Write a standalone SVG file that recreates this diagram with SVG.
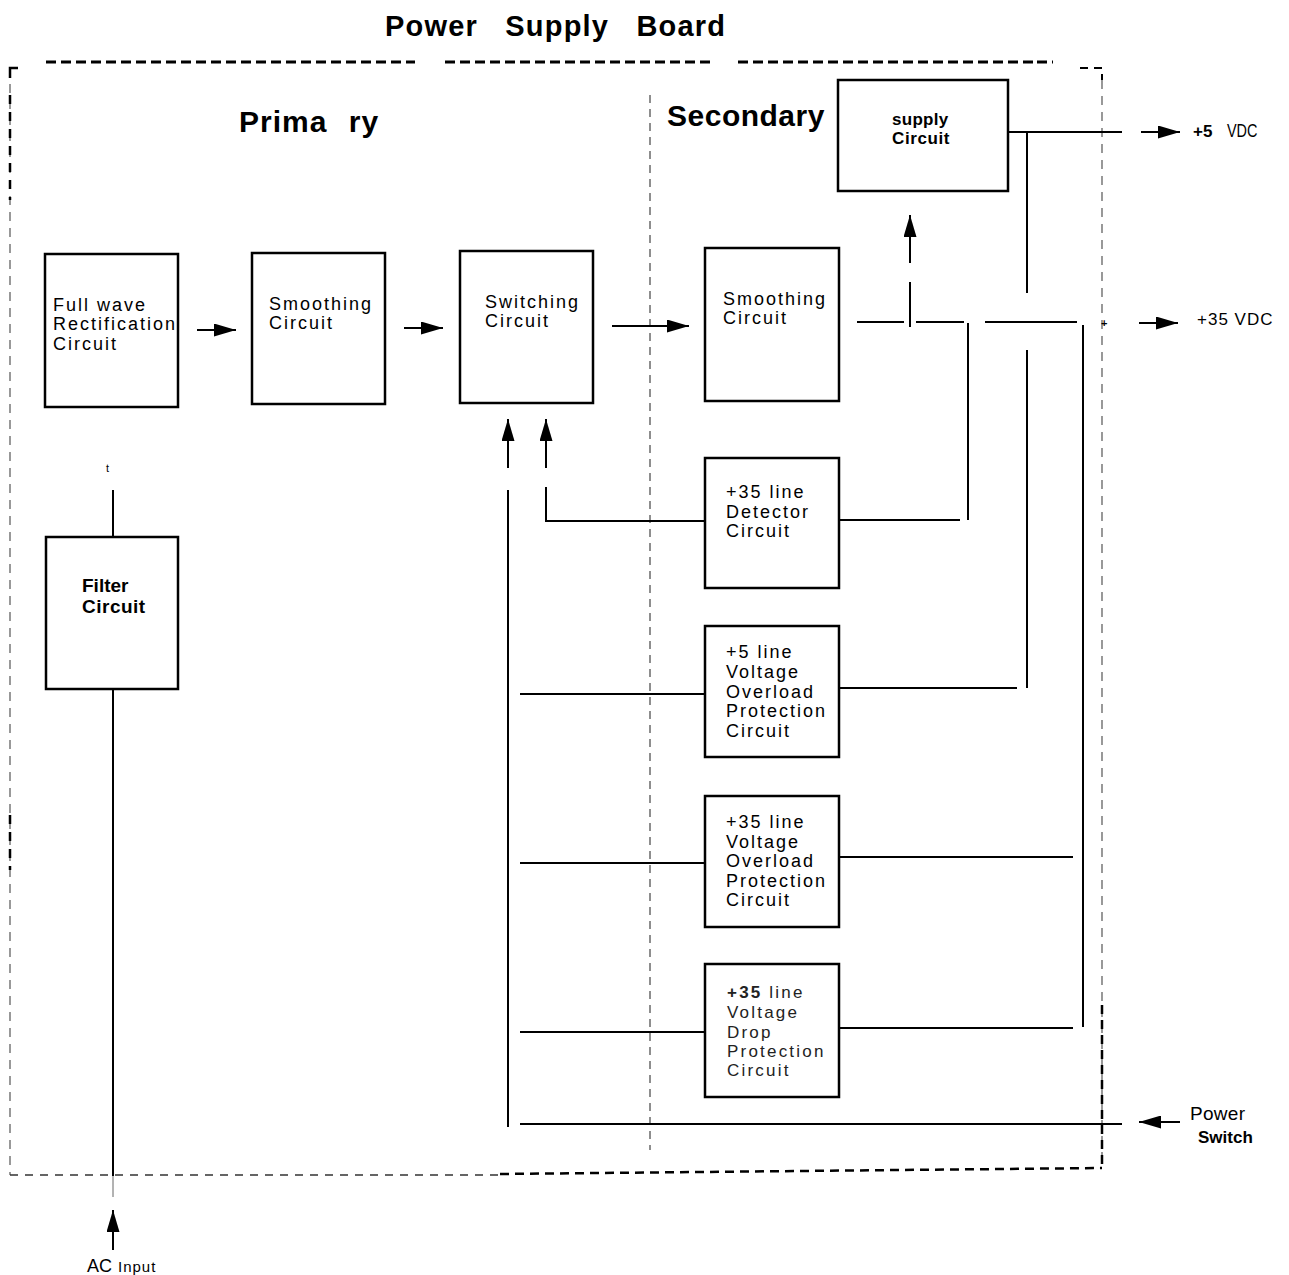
<svg xmlns="http://www.w3.org/2000/svg" width="1289" height="1275" viewBox="0 0 1289 1275">
<style>
.bg{fill:#fff}
.box{fill:none;stroke:#000;stroke-width:2.5}
.ln{fill:none;stroke:#000;stroke-width:2}
.t{font-family:"Liberation Sans",Arial,Helvetica,sans-serif;font-size:18px;letter-spacing:2px;fill:#000}
.tl{font-family:"Liberation Sans",Arial,Helvetica,sans-serif;font-size:17px;letter-spacing:2.2px;fill:#222}
.tb{font-family:"Liberation Sans",Arial,Helvetica,sans-serif;font-weight:bold;fill:#000}
.h{font-family:"Liberation Sans",Arial,Helvetica,sans-serif;font-weight:bold;font-size:30px;fill:#000}
.brd{fill:none;stroke:#000;stroke-width:3;stroke-dasharray:10 5}
.thin{fill:none;stroke:#555;stroke-width:1.2;stroke-dasharray:9 7}
</style>
<defs>
<marker id="ar" markerUnits="userSpaceOnUse" markerWidth="22" markerHeight="13" refX="22" refY="6.5" orient="auto">
<path d="M0,0 L22,6.5 L0,13 z" fill="#000"/>
</marker>
</defs>
<rect class="bg" x="0" y="0" width="1289" height="1275"/>

<g id="frame">
<text class="tb" x="385" y="36" font-size="29" letter-spacing="1.2" word-spacing="18">Power Supply Board</text>
<path class="brd" d="M46 62 H415 M445 62 H711 M738 62 H1033 M1037 62 H1053"/>
<path d="M10 78 V68 H18" fill="none" stroke="#000" stroke-width="2.5"/>
<path d="M1080 68 H1102 V80" fill="none" stroke="#000" stroke-width="2" stroke-dasharray="8 6"/>
<line class="thin" x1="10" y1="84" x2="10" y2="1175"/>
<path d="M10 95 V200 M10 815 V870" fill="none" stroke="#000" stroke-width="2.5" stroke-dasharray="9 8"/>
<line class="thin" x1="1102" y1="80" x2="1102" y2="1168"/>
<path d="M1102 1005 V1168" fill="none" stroke="#000" stroke-width="2.5" stroke-dasharray="9 6"/>
<path d="M10 1175 H500" fill="none" stroke="#333" stroke-width="1.5" stroke-dasharray="8 7"/>
<path d="M500 1174 L1102 1168" fill="none" stroke="#000" stroke-width="2.5" stroke-dasharray="9 6"/>
<line x1="650" y1="95" x2="650" y2="1150" stroke="#444" stroke-width="1.2" stroke-dasharray="8 6"/>
<text class="h" x="239" y="132" letter-spacing="1" word-spacing="12">Prima ry</text>
<text class="h" x="667" y="126" letter-spacing="0.5">Secondary</text>
</g>

<g id="rectifier">
<rect class="box" x="45" y="254" width="133" height="153"/>
<text class="t" x="53" y="311">Full wave</text>
<text class="t" x="53" y="330">Rectification</text>
<text class="t" x="53" y="350">Circuit</text>
</g>
<g id="smoothing-primary">
<rect class="box" x="252" y="253" width="133" height="151"/>
<text class="t" x="269" y="310">Smoothing</text>
<text class="t" x="269" y="329">Circuit</text>
</g>
<g id="switching">
<rect class="box" x="460" y="251" width="133" height="152"/>
<text class="t" x="485" y="308">Switching</text>
<text class="t" x="485" y="327">Circuit</text>
</g>
<g id="smoothing-secondary">
<rect class="box" x="705" y="248" width="134" height="153"/>
<text class="t" x="723" y="305">Smoothing</text>
<text class="t" x="723" y="324">Circuit</text>
</g>
<g id="supply">
<rect class="box" x="838" y="80" width="170" height="111"/>
<text class="tb" x="892" y="125" font-size="17" letter-spacing="0.3">supply</text>
<text class="tb" x="892" y="144" font-size="17" letter-spacing="0.6">Circuit</text>
</g>
<g id="detector35">
<rect class="box" x="705" y="458" width="134" height="130"/>
<text class="t" x="726" y="498">+35 line</text>
<text class="t" x="726" y="518">Detector</text>
<text class="t" x="726" y="537">Circuit</text>
</g>
<g id="overload5">
<rect class="box" x="705" y="626" width="134" height="131"/>
<text class="t" x="726" y="658">+5 line</text>
<text class="t" x="726" y="678">Voltage</text>
<text class="t" x="726" y="698">Overload</text>
<text class="t" x="726" y="717">Protection</text>
<text class="t" x="726" y="737">Circuit</text>
</g>
<g id="overload35">
<rect class="box" x="705" y="796" width="134" height="131"/>
<text class="t" x="726" y="828">+35 line</text>
<text class="t" x="726" y="848">Voltage</text>
<text class="t" x="726" y="867">Overload</text>
<text class="t" x="726" y="887">Protection</text>
<text class="t" x="726" y="906">Circuit</text>
</g>
<g id="drop35">
<rect class="box" x="705" y="964" width="134" height="133"/>
<text class="tl" x="727" y="998"><tspan font-weight="bold">+35</tspan> line</text>
<text class="tl" x="727" y="1018">Voltage</text>
<text class="tl" x="727" y="1038">Drop</text>
<text class="tl" x="727" y="1057">Protection</text>
<text class="tl" x="727" y="1076">Circuit</text>
</g>
<g id="filter">
<rect class="box" x="46" y="537" width="132" height="152"/>
<text class="tb" x="82" y="592" font-size="19">Filter</text>
<text class="tb" x="82" y="613" font-size="19" letter-spacing="0.5">Circuit</text>
</g>

<g id="labels">
<text class="tb" x="1193" y="137" font-size="17">+5</text>
<text x="1227" y="137" font-family="Liberation Sans,Arial,sans-serif" font-size="17" transform="translate(1227 137) scale(0.85 1.05) translate(-1227 -137)">VDC</text>
<text x="1197" y="325" font-family="Liberation Sans,Arial,sans-serif" font-size="17" letter-spacing="1">+35 VDC</text>
<text x="1101" y="327" font-family="Liberation Sans,Arial,sans-serif" font-size="11" font-weight="bold">+</text>
<text x="1190" y="1120" font-family="Liberation Sans,Arial,sans-serif" font-size="19" letter-spacing="0.3">Power</text>
<text class="tb" x="1198" y="1143" font-size="17">Switch</text>
<text x="87" y="1272" font-family="Liberation Sans,Arial,sans-serif" font-size="18">AC</text>
<text x="118" y="1272" font-family="Liberation Sans,Arial,sans-serif" font-size="15" letter-spacing="1">Input</text>
<text x="106" y="472" font-family="Liberation Sans,Arial,sans-serif" font-size="11">t</text>
</g>

<g id="connectors">
<line class="ln" x1="197" y1="330" x2="236" y2="330" marker-end="url(#ar)"/>
<line class="ln" x1="404" y1="328" x2="443" y2="328" marker-end="url(#ar)"/>
<line class="ln" x1="612" y1="326" x2="689" y2="326" marker-end="url(#ar)"/>
<path class="ln" d="M857 322 H904 M916 322 H964 M985 322 H1077"/>
<line class="ln" x1="910" y1="263" x2="910" y2="215" marker-end="url(#ar)"/>
<line class="ln" x1="910" y1="282" x2="910" y2="327"/>
<line class="ln" x1="1008" y1="132" x2="1122" y2="132"/>
<line class="ln" x1="1141" y1="132" x2="1180" y2="132" marker-end="url(#ar)"/>
<line class="ln" x1="1139" y1="323" x2="1178" y2="323" marker-end="url(#ar)"/>
<path class="ln" d="M1027 132 V293 M1027 350 V688"/>
<path class="ln" d="M968 323 V520"/>
<path class="ln" d="M1083 325 V1027"/>
<path class="ln" d="M839 520 H960"/>
<path class="ln" d="M839 688 H1017"/>
<path class="ln" d="M839 857 H1073"/>
<path class="ln" d="M839 1028 H1073"/>
<line class="ln" x1="508" y1="468" x2="508" y2="419" marker-end="url(#ar)"/>
<line class="ln" x1="546" y1="468" x2="546" y2="419" marker-end="url(#ar)"/>
<path class="ln" d="M546 487 V521 H705"/>
<path class="ln" d="M508 490 V1127"/>
<path class="ln" d="M520 694 H705"/>
<path class="ln" d="M520 863 H705"/>
<path class="ln" d="M520 1032 H705"/>
<path class="ln" d="M520 1124 H1122"/>
<line class="ln" x1="1180" y1="1122" x2="1139" y2="1122" marker-end="url(#ar)"/>
<path class="ln" d="M113 490 V537"/>
<path class="ln" d="M113 689 V1176"/>
<line x1="113" y1="1176" x2="113" y2="1197" stroke="#666" stroke-width="1"/>
<line class="ln" x1="113" y1="1250" x2="113" y2="1210" marker-end="url(#ar)"/>
</g>
</svg>
